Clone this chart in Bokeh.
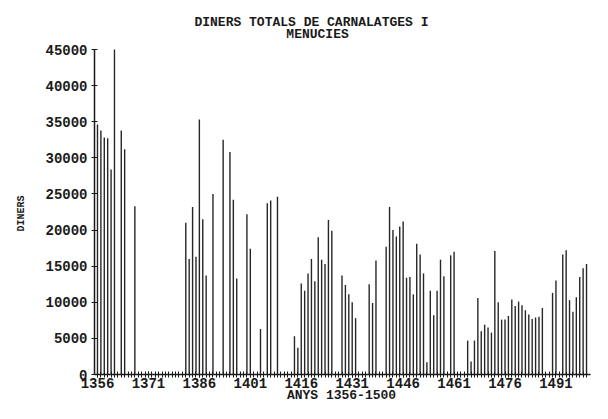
import math
from bokeh.plotting import figure
from bokeh.models import Range1d, FixedTicker, Label, ColumnDataSource
from bokeh.embed import file_html
from bokeh.resources import INLINE

# ---- data ----
title_lines = ["DINERS TOTALS DE CARNALATGES I", "MENUCIES"]
x_title = "ANYS 1356-1500"
y_title = "DINERS"

all_years = list(range(1356, 1501))
x_tick_years = [1356, 1371, 1386, 1401, 1416, 1431, 1446, 1461, 1476, 1491]
y_ticks = [0, 5000, 10000, 15000, 20000, 25000, 30000, 35000, 40000, 45000]

bar_years = [1356, 1357, 1358, 1359, 1360, 1361, 1363, 1364, 1367,
             1382, 1383, 1384, 1385, 1386, 1387, 1388, 1390, 1393, 1395, 1396, 1397,
             1400, 1401, 1404, 1406, 1407, 1409,
             1414, 1415, 1416, 1417, 1418, 1419, 1420, 1421, 1422, 1423, 1424, 1425,
             1428, 1429, 1430, 1431, 1432, 1436, 1437, 1438,
             1441, 1442, 1443, 1444, 1445, 1446, 1447, 1448, 1449, 1450, 1451, 1452,
             1453, 1454, 1455, 1456, 1457, 1458, 1460, 1461,
             1465, 1466, 1467, 1468, 1469, 1470, 1471, 1472, 1473, 1474, 1475, 1476,
             1477, 1478, 1479, 1480, 1481, 1482, 1483, 1484, 1485, 1486, 1487,
             1490, 1491, 1493, 1494, 1495, 1496, 1497, 1498, 1499, 1500]
bar_values = [34600, 33800, 32800, 32700, 28400, 45000, 33800, 31200, 23300,
              21000, 16000, 23200, 16300, 35300, 21500, 13700, 25000, 32500, 30800, 24200, 13300,
              22200, 17400, 6300, 23700, 24100, 24600,
              5300, 3700, 12600, 11600, 14000, 16000, 12900, 19000, 15900, 15300, 21400, 19900,
              13700, 12400, 11100, 10000, 7800, 12500, 9900, 15800,
              17700, 23200, 20000, 19100, 20500, 21200, 13400, 13500, 11100, 18100, 16600, 14000,
              1700, 11600, 8200, 11600, 15900, 13600, 16500, 17000,
              4700, 1800, 4700, 10600, 6000, 6900, 6500, 5800, 17100, 10000, 7600, 7600,
              8100, 10400, 9500, 10100, 9600, 8900, 8300, 7700, 7900, 8000, 9200,
              11300, 13000, 16600, 17200, 10300, 8700, 10700, 13500, 14700, 15300]

FONT = "Liberation Mono"
INK = "#1a1a1a"

X0 = 1355.12      # where the y axis stands
X1 = 1501.1       # right end of the x axis
Y0, Y1 = 0, 45000

src = ColumnDataSource(dict(year=bar_years, value=bar_values))

p = figure(width=592, height=403, output_backend="svg", toolbar_location=None,
           x_range=Range1d(1327.44, 1501.76), y_range=Range1d(-4015, 51785),
           min_border_left=0, min_border_right=0, min_border_top=0, min_border_bottom=0)
p.title.visible = False

p.vbar(x="year", top="value", width=0.41, source=src, fill_color="#262626", line_color=None)

p.grid.visible = False
p.outline_line_color = None
p.background_fill_color = "white"
p.border_fill_color = "white"

xa = p.xaxis[0]
xa.fixed_location = 0
xa.bounds = (X0, X1)
xa.ticker = FixedTicker(ticks=x_tick_years, minor_ticks=all_years)
xa.axis_line_color = INK
xa.axis_line_width = 1.5
xa.major_tick_in = 3
xa.major_tick_out = 3
xa.minor_tick_in = 3
xa.minor_tick_out = 3
xa.major_tick_line_color = INK
xa.minor_tick_line_color = INK
xa.major_label_standoff = 0
xa.major_label_text_font = FONT
xa.major_label_text_font_size = "14px"
xa.major_label_text_font_style = "bold"
xa.major_label_text_color = INK

ya = p.yaxis[0]
ya.fixed_location = X0
ya.bounds = (Y0, Y1)
ya.ticker = FixedTicker(ticks=y_ticks)
ya.axis_line_color = INK
ya.axis_line_width = 1.5
ya.major_tick_in = 3
ya.major_tick_out = 3
ya.minor_tick_line_color = None
ya.major_tick_line_color = INK
ya.major_label_standoff = 4
ya.major_label_text_font = FONT
ya.major_label_text_font_size = "14px"
ya.major_label_text_font_style = "bold"
ya.major_label_text_color = INK

# titles as annotations (inside the frame, which covers the whole figure)
for txt, xv, yv in zip(title_lines, [1419.0, 1420.8], [48738, 47077]):
    p.add_layout(Label(x=xv, y=yv, text=txt, text_align="center", text_baseline="middle",
                       text_font=FONT, text_font_size="13px", text_font_style="bold",
                       text_color=INK))

p.add_layout(Label(x=1427.85, y=-2908, text=x_title, text_align="center", text_baseline="middle",
                   text_font=FONT, text_font_size="13px", text_font_style="bold", text_color=INK))

p.add_layout(Label(x=1333.6, y=22292, text=y_title, text_align="center", text_baseline="middle",
                   angle=math.pi / 2, text_font=FONT, text_font_size="10px",
                   text_font_style="bold", text_color=INK))

open("out.html", "w").write(file_html(p, INLINE))
